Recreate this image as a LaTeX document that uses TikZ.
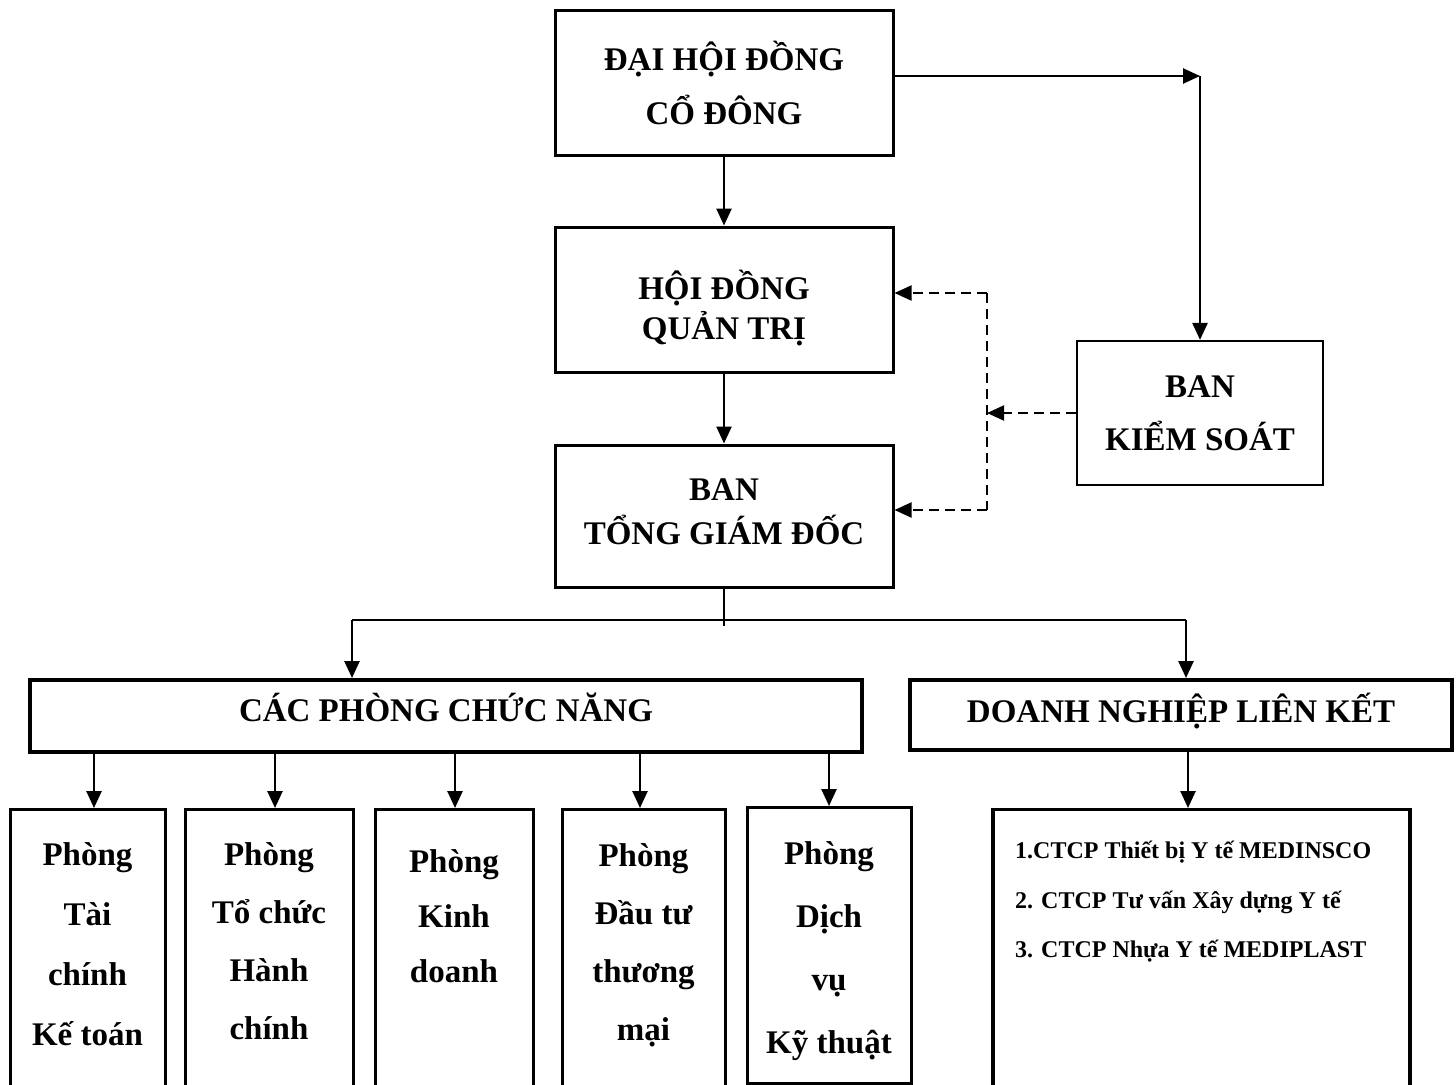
\documentclass[tikz,border=0pt]{standalone}
\usepackage{fontspec}
\setmainfont{Liberation Serif}
\usetikzlibrary{arrows.meta,positioning}
\newcommand{\dn}[1]{\rule[-#1]{0pt}{#1}}
\begin{document}
\begin{tikzpicture}[x=1pt,y=-1pt,
 every node/.style={inner sep=0pt},
 box/.style={draw,line width=3pt,align=center,font=\bfseries\fontsize{33}{#1}\selectfont},
 box/.default=54,
 tall/.style={draw,line width=3pt,anchor=north,minimum height=300},
 txt/.style={align=center,font=\bfseries\fontsize{33}{#1}\selectfont},
 txt/.default=60,
 ln/.style={line width=2.6pt},
 arr/.style={-{Triangle[length=17pt,width=15pt]},line width=2.6pt},
 darr/.style={arr,line width=2pt,dash pattern=on 10pt off 6pt}]
\useasboundingbox (0,0) rectangle (1456,1084);
\clip (0,0) rectangle (1456,1084);
\node[box,minimum width=338,minimum height=145] (dhdc) at (724,82.5) {ĐẠI HỘI ĐỒNG\\CỔ ĐÔNG};
\node[box=40,minimum width=338,minimum height=145] (hdqt) at (724,299.5) {\rule{0pt}{47pt}HỘI ĐỒNG\\QUẢN TRỊ};
\node[box=44,minimum width=338,minimum height=142] (btgd) at (724,516) {BAN\\TỔNG GIÁM ĐỐC\dn{8pt}};
\node[box=53,minimum width=246,minimum height=144,line width=2.2pt] (bks) at (1200,413) {BAN\\KIỂM SOÁT};
\node[box,minimum width=832,minimum height=72,line width=4pt,text depth=18pt] (cpcn) at (446,716) {CÁC PHÒNG CHỨC NĂNG};
\node[box,minimum width=542,minimum height=70,line width=4pt,text depth=15pt] (dnlk) at (1181,715) {DOANH NGHIỆP LIÊN KẾT};
\node[tall,minimum width=155] (p1) at (87.5,808) {};
\node[tall,minimum width=168] (p2) at (269,808) {};
\node[tall,minimum width=158] (p3) at (454,808) {};
\node[tall,minimum width=163] (p4) at (643.5,808) {};
\node[tall,minimum width=164,minimum height=276] (p5) at (829,806) {};
\node[tall,minimum width=417,line width=3.4pt] (lk) at (1201.5,808) {};
\node[txt,below=34pt of p1.north] (p1t) {Phòng\\Tài\\chính\\Kế toán};
\node[txt=58,below=34pt of p2.north] (p2t) {Phòng\\Tổ chức\\Hành\\chính};
\node[txt=55,below=41pt of p3.north] (p3t) {Phòng\\Kinh\\doanh};
\node[txt=58,below=35pt of p4.north] (p4t) {Phòng\\Đầu tư\\thương\\mại};
\node[txt=63,below=35pt of p5.north] (p5t) {Phòng\\Dịch\\vụ\\Kỹ thuật};
\node[anchor=north west,align=left,font=\bfseries\fontsize{24}{49.5}\selectfont] (lkt) at (1015,841) {1.CTCP Thiết bị Y tế MEDINSCO\\2. CTCP Tư vấn Xây dựng Y tế\\3. CTCP Nhựa Y tế MEDIPLAST};
\coordinate (ks) at (1200,76);
\coordinate (dm) at (987,413);
\coordinate (du) at (987,293);
\coordinate (dd) at (987,510);
\coordinate (bl) at (352,620);
\coordinate (br) at (1186,620);
\draw[arr] (dhdc) -- (hdqt);
\draw[arr] (hdqt) -- (btgd);
\draw[arr] (dhdc.east |- ks) -- (ks);
\draw[arr] (ks) -- (bks);
\draw[darr] (bks) -- (dm);
\draw[line width=2pt,dash pattern=on 10pt off 6pt] (du) -- (dd);
\draw[darr] (du) -- (hdqt.east |- du);
\draw[darr] (dd) -- (btgd.east |- dd);
\draw[ln] (btgd) -- (btgd.south |- 0,626);
\draw[ln] (bl) -- (br);
\draw[arr] (bl) -- (cpcn.north -| bl);
\draw[arr] (br) -- (dnlk.north -| br);
\foreach \i/\x in {1/94,2/275,3/455,4/640,5/829}
  \draw[arr] (cpcn.south -| \x,0) -- (p\i.north -| \x,0);
\draw[arr] (dnlk.south -| 1188,0) -- (lk.north -| 1188,0);
\end{tikzpicture}
\end{document}
